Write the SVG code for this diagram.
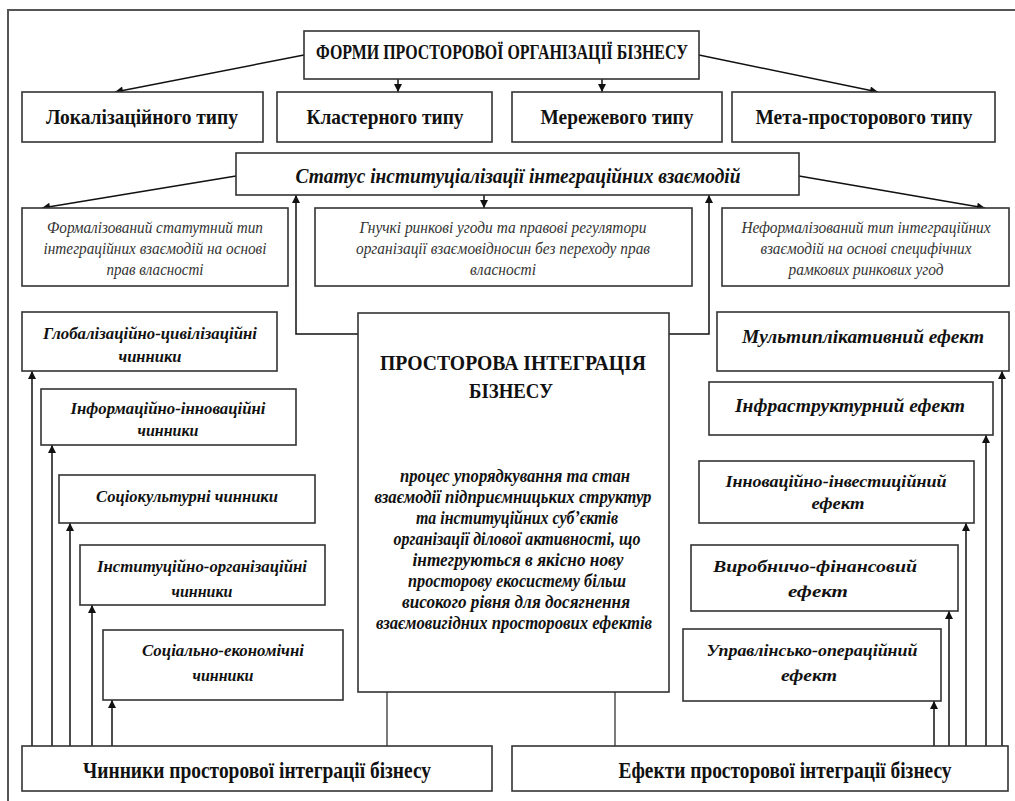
<svg xmlns="http://www.w3.org/2000/svg" width="1015" height="801" viewBox="0 0 1015 801">
<style>
.bx{fill:#fff;stroke:#333;stroke-width:1.6}
.c{fill:none;stroke:#111;stroke-width:1.5}
.g{fill:none;stroke:#444;stroke-width:1.4}
text{font-family:"Liberation Serif","Times New Roman",serif;fill:#111;text-anchor:middle}
.b{font-weight:bold}
.bi{font-weight:bold;font-style:italic}
.i{font-style:italic;fill:#333}
</style>
<defs>
<marker id="a" viewBox="0 0 10 10" refX="10" refY="5" markerWidth="10" markerHeight="8" markerUnits="userSpaceOnUse" orient="auto"><path d="M0,0 L10,5 L0,10 z" fill="#111"/></marker>
</defs>
<rect width="1015" height="801" fill="#fff"/>
<path d="M8,801 V10 H1015" fill="none" stroke="#555" stroke-width="2"/>

<g id="connectors">
<path class="c" d="M304,55 L115,92" marker-end="url(#a)"/>
<path class="c" d="M398,79 V92" marker-end="url(#a)"/>
<path class="c" d="M602,79 V92" marker-end="url(#a)"/>
<path class="c" d="M699,55 L878,92" marker-end="url(#a)"/>
<path class="c" d="M236,176 L42,208" marker-end="url(#a)"/>
<path class="c" d="M484,195 V208" marker-end="url(#a)"/>
<path class="c" d="M799,176 L985,208" marker-end="url(#a)"/>
<path class="c" d="M358,334 H296 V195" marker-end="url(#a)"/>
<path class="c" d="M669,334 H709 V195" marker-end="url(#a)"/>
<path class="g" d="M387,692 V746"/>
<path class="g" d="M615,692 V746"/>
<path class="c" d="M32,746 V371" marker-end="url(#a)"/>
<path class="c" d="M52,746 V445" marker-end="url(#a)"/>
<path class="c" d="M70,746 V523" marker-end="url(#a)"/>
<path class="c" d="M92,746 V605" marker-end="url(#a)"/>
<path class="c" d="M112,746 V700" marker-end="url(#a)"/>
<path class="c" d="M934,746 V701" marker-end="url(#a)"/>
<path class="c" d="M949,746 V611" marker-end="url(#a)"/>
<path class="c" d="M966,746 V523" marker-end="url(#a)"/>
<path class="c" d="M986,746 V435" marker-end="url(#a)"/>
<path class="c" d="M1002,746 V371" marker-end="url(#a)"/>
</g>

<g id="forms">
<rect class="bx" x="304" y="31" width="395" height="48"/>
<text class="b" x="502" y="59" font-size="21" textLength="372" lengthAdjust="spacingAndGlyphs">ФОРМИ ПРОСТОРОВОЇ ОРГАНІЗАЦІЇ БІЗНЕСУ</text>
</g>
<g id="loc">
<rect class="bx" x="22" y="92" width="241" height="50"/>
<text class="b" x="142" y="124" font-size="22" textLength="192" lengthAdjust="spacingAndGlyphs">Локалізаційного типу</text>
</g>
<g id="cluster">
<rect class="bx" x="277" y="92" width="215" height="50"/>
<text class="b" x="385" y="124" font-size="22" textLength="157" lengthAdjust="spacingAndGlyphs">Кластерного типу</text>
</g>
<g id="network">
<rect class="bx" x="512" y="92" width="210" height="50"/>
<text class="b" x="617" y="124" font-size="22" textLength="153" lengthAdjust="spacingAndGlyphs">Мережевого типу</text>
</g>
<g id="meta">
<rect class="bx" x="732" y="92" width="263" height="50"/>
<text class="b" x="864" y="124" font-size="21" textLength="217" lengthAdjust="spacingAndGlyphs">Мета-просторового типу</text>
</g>

<g id="status">
<rect class="bx" x="236" y="153" width="563" height="42"/>
<text class="bi" x="518" y="183" font-size="22" textLength="445" lengthAdjust="spacingAndGlyphs">Статус інституціалізації інтеграційних взаємодій</text>
</g>
<g id="formal">
<rect class="bx" x="22" y="208" width="266" height="78"/>
<text class="i" x="155" y="233" font-size="17" textLength="216" lengthAdjust="spacingAndGlyphs">Формалізований статутний тип</text>
<text class="i" x="155" y="254" font-size="17" textLength="223" lengthAdjust="spacingAndGlyphs">інтеграційних взаємодій на основі</text>
<text class="i" x="155" y="275" font-size="17" textLength="97" lengthAdjust="spacingAndGlyphs">прав власності</text>
</g>
<g id="flex">
<rect class="bx" x="315" y="208" width="377" height="78"/>
<text class="i" x="503" y="233" font-size="17" textLength="287" lengthAdjust="spacingAndGlyphs">Гнучкі ринкові угоди та правові регулятори</text>
<text class="i" x="503" y="254" font-size="17" textLength="294" lengthAdjust="spacingAndGlyphs">організації взаємовідносин без переходу прав</text>
<text class="i" x="503" y="275" font-size="17" textLength="66" lengthAdjust="spacingAndGlyphs">власності</text>
</g>
<g id="informal">
<rect class="bx" x="722" y="208" width="287" height="78"/>
<text class="i" x="866" y="233" font-size="16" textLength="249" lengthAdjust="spacingAndGlyphs">Неформалізований тип інтеграційних</text>
<text class="i" x="866" y="254" font-size="17" textLength="211" lengthAdjust="spacingAndGlyphs">взаємодій на основі специфічних</text>
<text class="i" x="866" y="275" font-size="17" textLength="155" lengthAdjust="spacingAndGlyphs">рамкових ринкових угод</text>
</g>

<g id="center">
<rect class="bx" x="358" y="313" width="311" height="379"/>
<text class="b" x="513" y="370" font-size="22" textLength="266" lengthAdjust="spacingAndGlyphs">ПРОСТОРОВА ІНТЕГРАЦІЯ</text>
<text class="b" x="511" y="398" font-size="22" textLength="84" lengthAdjust="spacingAndGlyphs">БІЗНЕСУ</text>
<text class="bi" x="515" y="482" font-size="18" textLength="230" lengthAdjust="spacingAndGlyphs">процес упорядкування та стан</text>
<text class="bi" x="513" y="503" font-size="18" textLength="277" lengthAdjust="spacingAndGlyphs">взаємодії підприємницьких структур</text>
<text class="bi" x="517" y="524" font-size="18" textLength="202" lengthAdjust="spacingAndGlyphs">та інституційних суб’єктів</text>
<text class="bi" x="517" y="545" font-size="18" textLength="247" lengthAdjust="spacingAndGlyphs">організації ділової активності, що</text>
<text class="bi" x="518" y="566" font-size="18" textLength="211" lengthAdjust="spacingAndGlyphs">інтегруються в якісно нову</text>
<text class="bi" x="517" y="587" font-size="18" textLength="218" lengthAdjust="spacingAndGlyphs">просторову екосистему більш</text>
<text class="bi" x="516" y="608" font-size="18" textLength="228" lengthAdjust="spacingAndGlyphs">високого рівня для досягнення</text>
<text class="bi" x="514" y="629" font-size="18" textLength="276" lengthAdjust="spacingAndGlyphs">взаємовигідних просторових ефектів</text>
</g>

<g id="f1">
<rect class="bx" x="22" y="312" width="255" height="59"/>
<text class="bi" x="150" y="339" font-size="17" textLength="214" lengthAdjust="spacingAndGlyphs">Глобалізаційно-цивілізаційні</text>
<text class="bi" x="150" y="362" font-size="17" textLength="63" lengthAdjust="spacingAndGlyphs">чинники</text>
</g>
<g id="f2">
<rect class="bx" x="41" y="389" width="255" height="56"/>
<text class="bi" x="168" y="414" font-size="17" textLength="195" lengthAdjust="spacingAndGlyphs">Інформаційно-інноваційні</text>
<text class="bi" x="168" y="436" font-size="17" textLength="61" lengthAdjust="spacingAndGlyphs">чинники</text>
</g>
<g id="f3">
<rect class="bx" x="59" y="475" width="256" height="48"/>
<text class="bi" x="187" y="502" font-size="17" textLength="182" lengthAdjust="spacingAndGlyphs">Соціокультурні чинники</text>
</g>
<g id="f4">
<rect class="bx" x="80" y="545" width="245" height="60"/>
<text class="bi" x="202" y="572" font-size="17" textLength="210" lengthAdjust="spacingAndGlyphs">Інституційно-організаційні</text>
<text class="bi" x="202" y="597" font-size="17" textLength="61" lengthAdjust="spacingAndGlyphs">чинники</text>
</g>
<g id="f5">
<rect class="bx" x="103" y="630" width="240" height="70"/>
<text class="bi" x="223" y="656" font-size="17" textLength="162" lengthAdjust="spacingAndGlyphs">Соціально-економічні</text>
<text class="bi" x="223" y="681" font-size="17" textLength="61" lengthAdjust="spacingAndGlyphs">чинники</text>
</g>
<g id="factors">
<rect class="bx" x="22" y="746" width="470" height="45"/>
<text class="b" x="257" y="778" font-size="23" textLength="348" lengthAdjust="spacingAndGlyphs">Чинники просторової інтеграції бізнесу</text>
</g>

<g id="e1">
<rect class="bx" x="717" y="312" width="292" height="59"/>
<text class="bi" x="863" y="343" font-size="19" textLength="242" lengthAdjust="spacingAndGlyphs">Мультиплікативний ефект</text>
</g>
<g id="e2">
<rect class="bx" x="709" y="382" width="284" height="53"/>
<text class="bi" x="850" y="412" font-size="19" textLength="230" lengthAdjust="spacingAndGlyphs">Інфраструктурний ефект</text>
</g>
<g id="e3">
<rect class="bx" x="699" y="461" width="275" height="62"/>
<text class="bi" x="836" y="487" font-size="17" textLength="221" lengthAdjust="spacingAndGlyphs">Інноваційно-інвестиційний</text>
<text class="bi" x="838" y="509" font-size="17" textLength="53" lengthAdjust="spacingAndGlyphs">ефект</text>
</g>
<g id="e4">
<rect class="bx" x="691" y="545" width="267" height="66"/>
<text class="bi" x="815" y="572" font-size="17" textLength="204" lengthAdjust="spacingAndGlyphs">Виробничо-фінансовий</text>
<text class="bi" x="818" y="597" font-size="17" textLength="60" lengthAdjust="spacingAndGlyphs">ефект</text>
</g>
<g id="e5">
<rect class="bx" x="683" y="629" width="258" height="72"/>
<text class="bi" x="812" y="656" font-size="17" textLength="211" lengthAdjust="spacingAndGlyphs">Управлінсько-операційний</text>
<text class="bi" x="809" y="681" font-size="17" textLength="56" lengthAdjust="spacingAndGlyphs">ефект</text>
</g>
<g id="effects">
<rect class="bx" x="512" y="746" width="496" height="45"/>
<text class="b" x="785" y="778" font-size="23" textLength="333" lengthAdjust="spacingAndGlyphs">Ефекти просторової інтеграції бізнесу</text>
</g>
</svg>
